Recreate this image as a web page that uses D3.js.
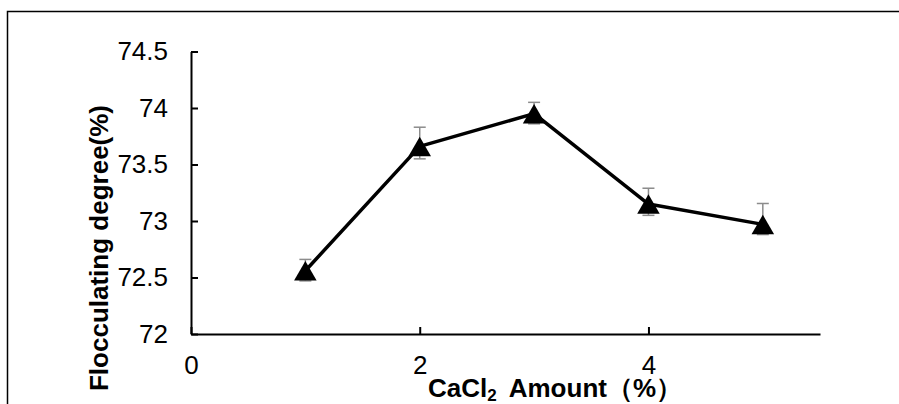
<!DOCTYPE html>
<html>
<head>
<meta charset="utf-8">
<script src="https://cdn.jsdelivr.net/npm/d3@7"></script>
<style>
  body { margin: 0; background: #fff; }
  svg { display: block; font-family: Arial, "Liberation Sans", sans-serif; }
</style>
</head>
<body>
<svg id="chart" width="899" height="404"></svg>
<script>
// data
const amounts = [1, 2, 3, 4, 5];
const degrees = [72.56, 73.66, 73.95, 73.15, 72.97];
const errUp = [0.1, 0.17, 0.1, 0.14, 0.185];
const errDown = [0.09, 0.11, 0.09, 0.1, 0.09];
const xTicks = [0, 2, 4];
const yTicks = [72, 72.5, 73, 73.5, 74, 74.5];

let svg = d3.select("#chart");

// outer frame (runs off the right and bottom edge)
svg.append("rect")
  .attr("x", 7.5).attr("y", 11.5)
  .attr("width", 1000).attr("height", 1000)
  .attr("fill", "none").attr("stroke", "#000").attr("stroke-width", 1.5);

let x = d3.scaleLinear().domain([0, 5.5]).range([191, 820]);
let y = d3.scaleLinear().domain([72, 74.5]).range([334, 51.5]);

// axes, ticks point inward
let yAxis = svg.append("g")
  .attr("transform", `translate(${x(0)},0)`)
  .call(d3.axisLeft(y).tickValues(yTicks).tickFormat(d => d).tickSizeInner(-7).tickSizeOuter(0).tickPadding(23));

let xAxis = svg.append("g")
  .attr("transform", `translate(0,${y(72)})`)
  .call(d3.axisBottom(x).tickValues(xTicks).tickFormat(d => d).tickSizeInner(-7).tickSizeOuter(0).tickPadding(22));

[xAxis, yAxis].forEach(function (g) {
  g.selectAll("path, line").attr("stroke", "#000").attr("stroke-width", 2);
  g.selectAll("text").attr("fill", "#000").style("font-size", "26px").style("font-family", "Arial, 'Liberation Sans', sans-serif");
});

// error bars
let bars = svg.append("g").attr("stroke", "#8c8c8c").attr("stroke-width", 1.5);
amounts.forEach(function (a, i) {
  let cx = x(a), top = y(degrees[i] + errUp[i]), bot = y(degrees[i] - errDown[i]);
  bars.append("line").attr("x1", cx).attr("x2", cx).attr("y1", top).attr("y2", bot);
  bars.append("line").attr("x1", cx - 6).attr("x2", cx + 6).attr("y1", top).attr("y2", top);
  bars.append("line").attr("x1", cx - 6).attr("x2", cx + 6).attr("y1", bot).attr("y2", bot);
});

// line
let line = d3.line().x((d, i) => x(amounts[i])).y(d => y(d));
svg.append("path")
  .datum(degrees)
  .attr("d", line)
  .attr("fill", "none")
  .attr("stroke", "#000")
  .attr("stroke-width", 3.5)
  .attr("stroke-linejoin", "round");

// triangle markers, centred on their bounding box
let triSize = 220;
let triHalf = Math.sqrt(triSize / (Math.sqrt(3) * 3)) / 2;
svg.append("g").selectAll("path")
  .data(degrees)
  .join("path")
  .attr("d", d3.symbol().type(d3.symbolTriangle).size(triSize))
  .attr("transform", (d, i) => `translate(${x(amounts[i])},${y(d) + triHalf})`)
  .attr("fill", "#000");

// axis titles
let xTitle = svg.append("text")
  .attr("x", 428).attr("y", 397)
  .style("font-size", "26px").style("font-weight", "bold");
xTitle.append("tspan").text("CaCl");
xTitle.append("tspan").attr("dy", 4).style("font-size", "17px").text("2");
xTitle.append("tspan").attr("dy", -4).attr("dx", 12).text("Amount（%）");

svg.append("text")
  .attr("transform", "translate(108,248) rotate(-90)")
  .attr("text-anchor", "middle")
  .style("font-size", "26px").style("font-weight", "bold")
  .text("Flocculating degree(%)");
</script>
</body>
</html>
